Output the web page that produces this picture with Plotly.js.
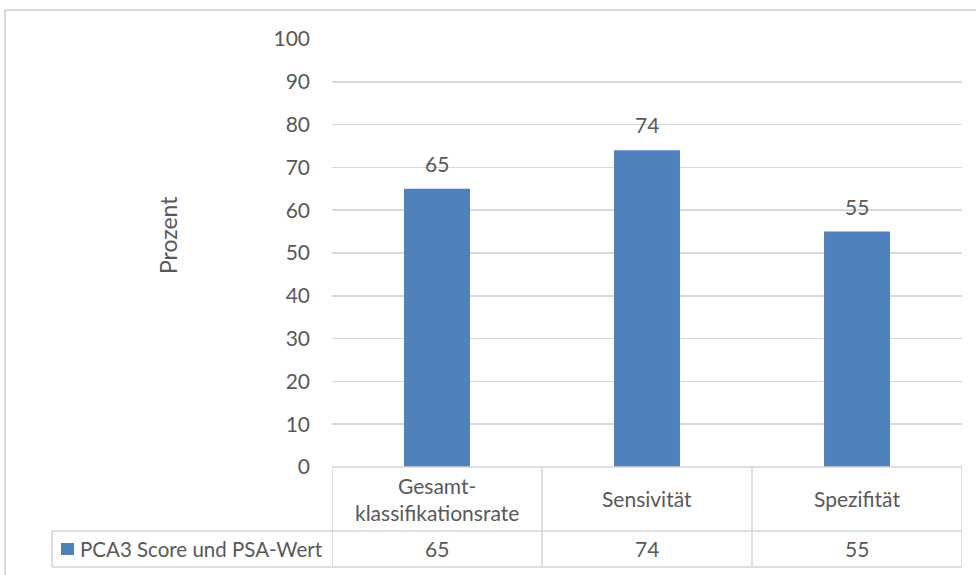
<!DOCTYPE html>
<html>
<head>
<meta charset="utf-8">
<script src="https://cdn.plot.ly/plotly-3.0.1.min.js"></script>
<style>
  html, body { margin: 0; padding: 0; background: #ffffff; }
  #chart { width: 976px; height: 575px; }
</style>
</head>
<body>
<div id="chart"></div>
<script>
// Kategorien und Werte (Prozent)
const categories = ['Gesamt-<br>klassifikationsrate', 'Sensivität', 'Spezifität'];
const seriesName = 'PCA3 Score und PSA-Wert';
const values = [65, 74, 55];
const yTicks = [0, 10, 20, 30, 40, 50, 60, 70, 80, 90, 100];
const yTitle = 'Prozent';

const textColor = '#595959';
const gridColor = '#d9d9d9';
const tableColor = '#d4d4d4';
const barColor = '#4f81bd';
const fontFamily = 'Lato, "Open Sans", sans-serif';
const fontSize = 21;

const xIdx = categories.map((_, i) => i);

// Data table below the plot area (paper coordinates)
const rowSplit = -0.1495;
const tableBottom = -0.2336;
const legendCellLeft = -0.4444;
const valueRowMid = (rowSplit + tableBottom) / 2;

const shapes = [];
// outer chart frame
shapes.push({type: 'line', xref: 'paper', yref: 'paper', x0: -0.519, x1: -0.519, y0: 1.068, y1: -0.3, line: {color: gridColor, width: 2}});
shapes.push({type: 'line', xref: 'paper', yref: 'paper', x0: -0.519, x1: 1.03, y0: 1.068, y1: 1.068, line: {color: gridColor, width: 2}});
// table vertical lines on category boundaries
[-0.5, 0.5, 1.5, 2.5].forEach(b => {
  shapes.push({type: 'line', xref: 'x', yref: 'paper', x0: b, x1: b, y0: 0, y1: tableBottom, line: {color: tableColor, width: 1.5}});
});
shapes.push({type: 'line', xref: 'x', yref: 'paper', x0: -0.5, x1: 2.5, y0: 0, y1: 0, line: {color: tableColor, width: 1.5}});
shapes.push({type: 'line', xref: 'paper', yref: 'paper', x0: legendCellLeft, x1: 1, y0: rowSplit, y1: rowSplit, line: {color: tableColor, width: 1.5}});
shapes.push({type: 'line', xref: 'paper', yref: 'paper', x0: legendCellLeft, x1: 1, y0: tableBottom, y1: tableBottom, line: {color: tableColor, width: 1.5}});
shapes.push({type: 'line', xref: 'paper', yref: 'paper', x0: legendCellLeft, x1: legendCellLeft, y0: rowSplit, y1: tableBottom, line: {color: tableColor, width: 1.5}});
// legend key in the table's first column
shapes.push({type: 'rect', xref: 'paper', yref: 'paper', x0: -0.4302, x1: -0.4095, y0: valueRowMid + 0.0140, y1: valueRowMid - 0.0140,
  line: {width: 0}, fillcolor: barColor});

const annotations = [];
// value labels above the bars
xIdx.forEach(i => {
  annotations.push({x: i, y: values[i], xref: 'x', yref: 'y', text: String(values[i]), showarrow: false,
    yanchor: 'bottom', yshift: 11, font: {family: fontFamily, size: fontSize, color: textColor}});
});
// table: category row and value row
xIdx.forEach(i => {
  annotations.push({x: i, y: (0 + rowSplit) / 2, xref: 'x', yref: 'paper', text: categories[i], showarrow: false,
    yanchor: 'middle', font: {family: fontFamily, size: fontSize, color: textColor}});
  annotations.push({x: i, y: valueRowMid, xref: 'x', yref: 'paper', text: String(values[i]), showarrow: false,
    yanchor: 'middle', font: {family: fontFamily, size: fontSize, color: textColor}});
});
// series name next to its key
annotations.push({x: -0.4035, y: valueRowMid, xref: 'paper', yref: 'paper', text: seriesName, showarrow: false,
  xanchor: 'left', yanchor: 'middle', font: {family: fontFamily, size: 20.5, color: textColor}});
// vertical axis title
annotations.push({x: -0.2603, y: 0.542, xref: 'paper', yref: 'paper', text: yTitle, showarrow: false,
  textangle: -90, xanchor: 'center', yanchor: 'middle', font: {family: fontFamily, size: 23, color: textColor}});

const trace = {
  type: 'bar',
  x: xIdx,
  y: values,
  name: seriesName,
  marker: {color: barColor},
  hoverinfo: 'skip'
};

const layout = {
  width: 976,
  height: 575,
  margin: {l: 332, r: 14, t: 39, b: 108},
  paper_bgcolor: '#ffffff',
  plot_bgcolor: '#ffffff',
  bargap: 0.686,
  showlegend: false,
  xaxis: {
    range: [-0.5, 2.5],
    showticklabels: false,
    showgrid: false,
    zeroline: false,
    showline: false,
    ticks: '',
    fixedrange: true
  },
  yaxis: {
    range: [0, 100],
    tickvals: yTicks,
    ticktext: yTicks.map(String),
    showgrid: true,
    gridcolor: gridColor,
    gridwidth: 1.5,
    zeroline: false,
    showline: false,
    ticks: '',
    ticklabelstandoff: 21,
    tickfont: {family: fontFamily, size: fontSize, color: textColor},
    automargin: false,
    fixedrange: true
  },
  shapes: shapes,
  annotations: annotations
};

Plotly.newPlot('chart', [trace], layout, {displayModeBar: false, staticPlot: true});
</script>
</body>
</html>
